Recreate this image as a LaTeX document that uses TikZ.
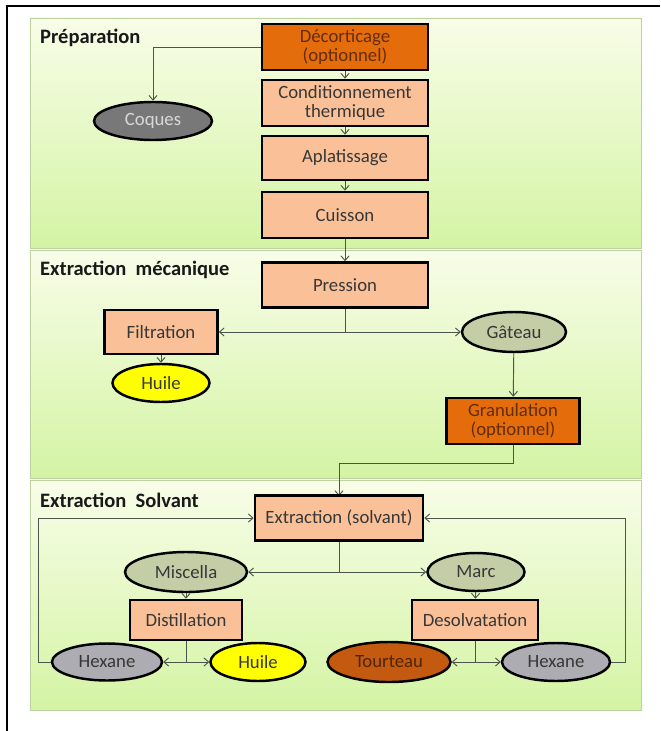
\documentclass[tikz,border=0pt]{standalone}
\usepackage{fontspec}
\setmainfont{Carlito}
\usepackage{tikz}
\usetikzlibrary{shapes.geometric,arrows.meta}
\definecolor{peach}{RGB}{250,193,152}
\definecolor{darkorange}{RGB}{228,108,10}
\definecolor{sage}{RGB}{196,206,166}
\definecolor{coqgray}{RGB}{120,120,120}
\definecolor{hexgray}{RGB}{172,172,178}
\definecolor{oilyellow}{RGB}{255,255,0}
\definecolor{tourtbrown}{RGB}{196,90,16}
\definecolor{paneltop}{RGB}{248,253,232}
\definecolor{panelbot}{RGB}{212,244,164}
\definecolor{panelline}{RGB}{190,210,160}
\definecolor{linkgray}{RGB}{75,85,75}
\definecolor{textgray}{RGB}{55,55,55}
\definecolor{textbrown}{RGB}{100,45,10}
\newcommand{\pxu}{0.03cm}
\newcommand{\drawpanel}[4]{
    % Panel background with a vertical gradient
    \shade[top color=paneltop, bottom color=panelbot, draw=panelline]
        (30,#1) rectangle (641,#2);
    % Panel title
    \node[paneltitle, anchor=west] (#4) at (40,#1+20) {#3};
}

\begin{document}
\begin{tikzpicture}[x=\pxu, y=-\pxu,
        box/.style={draw=black, line width=2.2pt, fill=peach, text=textgray,
            minimum width=166*\pxu, minimum height=46*\pxu, align=center, inner sep=1pt,
            font=\fontsize{16}{17}\selectfont},
        optbox/.style={box, fill=darkorange, text=textbrown},
        blob/.style={ellipse, draw=black, line width=2.1pt, fill=sage, text=textgray,
            inner sep=0pt, minimum width=104*\pxu, minimum height=40*\pxu,
            font=\fontsize{16}{17}\selectfont},
        paneltitle/.style={font=\fontsize{17.5}{19}\selectfont\bfseries, text=black!90, inner sep=0pt},
        link/.style={draw=linkgray, line width=0.8pt},
        arr/.style={link, -{Straight Barb[length=4pt,width=7pt]}}]
    \useasboundingbox (0,0) rectangle (660,731);

    % Outer frame (top and left only)
    \draw[line width=2.2pt] (7,731) -- (7,6) -- (660,6);

    % The three panels
    \drawpanel{18}{248}{Préparation}{tprep}
    \drawpanel{250}{478}{Extraction\ \ mécanique}{tmeca}
    \drawpanel{480}{710}{Extraction\ \ Solvant}{tsolv}

    % Preparation
    \node[optbox] (deco) at (345,47) {Décorticage\\(optionnel)};
    \node[box] (cond) at (345,103) {Conditionnement\\thermique};
    \node[box, minimum height=44*\pxu] (aplat) at (345,158) {Aplatissage};
    \node[box] (cuis) at (345,215) {Cuisson};
    \node[blob, fill=coqgray, text=black!15, minimum width=118*\pxu, minimum height=38*\pxu] (coques) at (153,121) {Coques};

    \draw[arr] (deco.west) -| (coques.north);
    \draw[arr] (deco) -- (cond);
    \draw[arr] (cond) -- (aplat);
    \draw[arr] (aplat) -- (cuis);

    % Mechanical extraction
    \node[box, minimum height=45*\pxu] (press) at (345,285) {Pression};
    \node[box, minimum width=113*\pxu, minimum height=44*\pxu] (filt) at (161,332) {Filtration};
    \node[blob] (gat) at (514,332) {Gâteau};
    \node[blob, fill=oilyellow, minimum width=97*\pxu, minimum height=38*\pxu] (huileA) at (161,383) {Huile};
    \node[optbox, minimum width=133*\pxu] (gran) at (513,421) {Granulation\\(optionnel)};

    \draw[arr] (cuis) -- (press);
    \draw[arr] (press.south) |- (filt.east);
    \draw[arr] (press.south) |- (gat.west);
    \draw[arr] (filt) -- (huileA);
    \draw[arr] (gat) -- (gran);
    \coordinate (granout) at (513,463);
    \draw[arr] (gran.south) -- (granout) -| (339,496);

    % Solvent extraction
    \node[box, minimum width=168*\pxu, minimum height=45*\pxu] (extr) at (339,518) {Extraction (solvant)};
    \node[blob, minimum width=122*\pxu] (misc) at (186,572) {Miscella};
    \node[blob, minimum width=97*\pxu, minimum height=38*\pxu] (marc) at (476,572) {Marc};
    \node[box, minimum width=112*\pxu, minimum height=40*\pxu] (dist) at (186,620) {Distillation};
    \node[box, minimum width=126*\pxu, minimum height=40*\pxu] (desolv) at (475,620) {Desolvatation};
    \node[blob, fill=hexgray, minimum width=110*\pxu, minimum height=37*\pxu] (hexA) at (107,662) {Hexane};
    \node[blob, fill=oilyellow, minimum width=95*\pxu, minimum height=38*\pxu] (huileB) at (258,662) {Huile};
    \node[blob, fill=tourtbrown, text=textbrown!80!black, minimum width=123*\pxu] (tourt) at (389,662) {Tourteau};
    \node[blob, fill=hexgray, minimum width=108*\pxu, minimum height=38*\pxu] (hexB) at (556,662) {Hexane};

    \draw[arr] (extr.south) |- (misc.east);
    \draw[arr] (extr.south) |- (marc.west);
    \draw[arr] (misc) -- (dist);
    \draw[arr] (marc) -- (desolv);
    \draw[arr] (dist.south) |- (hexA.east);
    \draw[arr] (dist.south) |- (huileB.west);
    \draw[arr] (desolv.south) |- (tourt.east);
    \draw[arr] (desolv.south) |- (hexB.west);

    % Hexane recycled back to the extraction
    \coordinate (loopA) at (38,662);
    \coordinate (loopB) at (625,662);
    \draw[arr] (hexA.west) -- (loopA) |- (extr.west);
    \draw[arr] (hexB.east) -- (loopB) |- (extr.east);
\end{tikzpicture}
\end{document}
